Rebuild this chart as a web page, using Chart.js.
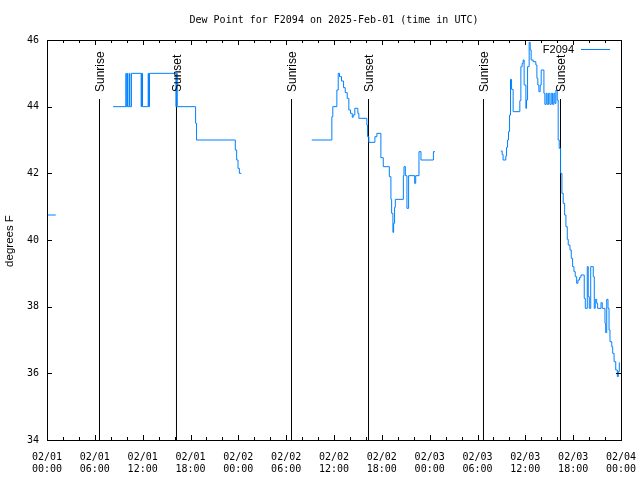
<!DOCTYPE html>
<html>
<head>
<meta charset="utf-8">
<script src="https://cdn.jsdelivr.net/npm/chart.js"></script>
<style>
    body { margin: 0; background: #fff; }
    canvas { display: block; }
</style>
</head>
<body>
<canvas id="grafico" width="640" height="480"></canvas>
<script>
//Datos: [horas desde 02/01 00:00 UTC, punto de rocio °F]
const segA = [[0, 40.75], [1.1, 40.75]]
const segB = [[8.29, 44], [9.89, 45], [9.95, 44], [10.09, 45], [10.15, 44], [10.34, 45], [10.4, 44], [10.59, 45],
    [11.81, 44], [11.87, 45], [11.98, 44], [12.69, 45], [12.75, 44], [12.86, 45], [16.17, 44], [16.25, 45], [16.34, 44],
    [18.64, 43.5], [18.76, 43], [23.62, 42.7], [23.79, 42.4], [23.96, 42.15], [24.13, 42], [24.38, 42]]
const segC = [[33.21, 43.0], [35.73, 43.7], [35.85, 44.0], [36.36, 44.5], [36.53, 45.0], [36.69, 44.9], [36.94, 44.77],
    [37.2, 44.57], [37.41, 44.42], [37.66, 44.25], [37.86, 43.9], [38.07, 43.8], [38.29, 43.68], [38.41, 43.75],
    [38.61, 43.95], [38.99, 43.8], [39.12, 43.65], [40.12, 43.45], [40.21, 43.1], [40.37, 42.93], [41.13, 43.1],
    [41.38, 43.2], [41.88, 42.47], [42.18, 42.2], [42.94, 41.9], [43.14, 41.22], [43.23, 40.8], [43.39, 40.23],
    [43.48, 40.5], [43.6, 40.98], [43.69, 41.22], [44.7, 41.93], [44.78, 42.2], [44.95, 41.93], [45.15, 40.95],
    [45.36, 41.93], [46.12, 41.7], [46.25, 41.93], [46.66, 42.65], [46.91, 42.4], [48.47, 42.65], [48.67, 42.65]]
const segD = [[56.92, 42.67], [57.09, 42.57], [57.21, 42.4], [57.55, 42.52], [57.64, 42.78], [57.77, 43.0], [57.89, 43.25],
    [58.02, 43.75], [58.14, 44.82], [58.27, 44.52], [58.47, 43.85], [59.31, 44.18], [59.44, 45.2], [59.6, 45.3],
    [59.73, 45.4], [59.85, 44.65], [60.07, 43.95], [60.15, 44.2], [60.28, 45.2], [60.48, 45.93], [60.61, 45.7],
    [60.73, 45.4], [60.98, 45.35], [61.32, 45.25], [61.45, 44.85], [61.57, 44.65], [61.7, 44.45], [61.86, 44.65],
    [61.99, 45.1], [62.33, 44.4], [62.45, 44.07], [62.62, 44.4], [62.74, 44.07], [62.92, 44.4], [63.08, 44.07],
    [63.25, 44.4], [63.42, 44.07], [63.58, 44.4], [63.71, 44.1], [63.84, 44.5], [64.0, 44.2], [64.12, 43.0],
    [64.25, 42.75], [64.42, 42.0], [64.59, 41.4], [64.75, 41.1], [64.93, 40.75], [65.09, 40.4], [65.26, 40.02],
    [65.38, 39.85], [65.6, 39.7], [65.76, 39.45], [65.93, 39.2], [66.1, 39.05], [66.26, 38.9], [66.44, 38.7],
    [66.6, 38.8], [66.81, 38.88], [66.98, 38.95], [67.39, 38.25], [67.52, 37.95], [67.77, 39.2], [67.89, 38.3],
    [68.02, 37.95], [68.2, 39.2], [68.52, 38.9], [68.65, 37.95], [68.77, 38.22], [68.95, 38.1], [69.07, 37.95],
    [69.49, 38.12], [69.65, 37.95], [69.99, 37.5], [70.08, 37.22], [70.21, 38.22], [70.37, 37.95], [70.5, 37.3],
    [70.62, 36.95], [70.84, 36.8], [70.96, 36.6], [71.13, 36.35], [71.34, 36.1], [71.54, 35.9], [71.66, 36.05],
    [71.79, 36.33]]

//Salida y puesta de sol (horas)
const sunrise = [6.585, 30.67, 54.75]
const sunset = [16.24, 40.33, 64.41]
const sunLineTop = 44.23
const sunLabelBase = 44.44

//Etiquetas eje x
const tickDates = ['02/01', '02/01', '02/01', '02/01', '02/02', '02/02', '02/02', '02/02', '02/03', '02/03', '02/03', '02/03', '02/04']
const tickTimes = ['00:00', '06:00', '12:00', '18:00', '00:00', '06:00', '12:00', '18:00', '00:00', '06:00', '12:00', '18:00', '00:00']

const mono = 'DejaVu Sans Mono'
const sans = 'Liberation Sans'
const lineColor = 'rgb(0,128,255)'

//Unir los tramos con huecos (null)
const puntos = []
const segmentos = [segA, segB, segC, segD]
segmentos.forEach((seg, i) => {
    if (i > 0) puntos.push({ x: seg[0][0] - 0.01, y: null })
    seg.forEach(([x, y]) => puntos.push({ x, y }))
})

//Lineas verticales de sol
const sunEvents = [
    ...sunrise.map(h => ({ h, label: 'Sunrise' })),
    ...sunset.map(h => ({ h, label: 'Sunset' }))
]
const sunDatasets = sunEvents.map(ev => ({
    label: ev.label,
    data: [{ x: ev.h, y: 34 }, { x: ev.h, y: sunLineTop }],
    borderColor: '#000',
    borderWidth: 1,
    pointRadius: 0,
    showLine: true
}))

//Plugin: marco, ticks hacia adentro, textos
const decoraciones = {
    id: 'decoraciones',
    afterDraw(chart) {
        const { ctx, chartArea: a, scales: { x, y } } = chart
        ctx.save()
        ctx.strokeStyle = '#000'
        ctx.lineWidth = 1
        ctx.beginPath()
        //ticks menores eje x (cada 2 h)
        for (let h = 0; h <= 72; h += 2) {
            const px = Math.round(x.getPixelForValue(h)) + 0.5
            const len = h % 6 === 0 ? 5 : 3
            ctx.moveTo(px, a.bottom); ctx.lineTo(px, a.bottom - len)
            ctx.moveTo(px, a.top); ctx.lineTo(px, a.top + len)
        }
        y.ticks.forEach(t => {
            const py = Math.round(y.getPixelForValue(t.value)) + 0.5
            ctx.moveTo(a.left, py); ctx.lineTo(a.left + 5, py)
            ctx.moveTo(a.right, py); ctx.lineTo(a.right - 5, py)
        })
        ctx.stroke()
        ctx.strokeRect(Math.round(a.left) + 0.5, Math.round(a.top) + 0.5, Math.round(a.right - a.left), Math.round(a.bottom - a.top))

        //etiquetas Sunrise / Sunset
        ctx.fillStyle = '#000'
        ctx.font = `12px "${sans}"`
        ctx.textAlign = 'left'
        ctx.textBaseline = 'middle'
        sunEvents.forEach(ev => {
            ctx.save()
            ctx.translate(x.getPixelForValue(ev.h) + 1, y.getPixelForValue(sunLabelBase))
            ctx.rotate(-Math.PI / 2)
            ctx.fillText(ev.label, 0, 0)
            ctx.restore()
        })

        //titulo
        ctx.font = `10px "${mono}"`
        ctx.textAlign = 'center'
        ctx.fillText('Dew Point for F2094 on 2025-Feb-01 (time in UTC)', (a.left + a.right) / 2, 20)

        //titulo eje y
        ctx.save()
        ctx.font = `11.5px "${sans}"`
        ctx.translate(10, (a.top + a.bottom) / 2 + 1)
        ctx.rotate(-Math.PI / 2)
        ctx.fillText('degrees F', 0, 0)
        ctx.restore()

        //leyenda
        ctx.font = `11px "${sans}"`
        ctx.textAlign = 'right'
        ctx.fillText(chart.data.datasets[0].label, a.right - 47, 50)
        ctx.strokeStyle = lineColor
        ctx.beginPath()
        ctx.moveTo(a.right - 40, 49.5)
        ctx.lineTo(a.right - 11, 49.5)
        ctx.stroke()
        ctx.restore()
    }
}

const ctx = document.getElementById('grafico').getContext('2d')
new Chart(ctx, {
    type: 'scatter',
    data: {
        datasets: [{
            label: 'F2094',
            data: puntos,
            borderColor: lineColor,
            borderWidth: 1,
            pointRadius: 0,
            showLine: true,
            stepped: 'before',
            spanGaps: false
        }, ...sunDatasets]
    },
    options: {
        responsive: false,
        animation: false,
        layout: { padding: { top: 40, right: 19, left: 0, bottom: 0 } },
        plugins: {
            legend: { display: false },
            tooltip: { enabled: false }
        },
        scales: {
            x: {
                type: 'linear',
                min: 0,
                max: 72,
                afterFit: s => { s.height = 40; s.paddingLeft = 0; s.paddingRight = 0 },
                grid: { display: false, drawTicks: false },
                border: { display: false },
                ticks: {
                    stepSize: 6,
                    padding: 11,
                    maxRotation: 0,
                    autoSkip: false,
                    color: '#000',
                    font: { family: mono, size: 10 },
                    callback: (v, i) => [tickDates[i], tickTimes[i]]
                }
            },
            y: {
                min: 34,
                max: 46,
                afterFit: s => { s.width = 47; s.paddingTop = 0; s.paddingBottom = 0 },
                grid: { display: false, drawTicks: false },
                border: { display: false },
                ticks: {
                    stepSize: 2,
                    padding: 8,
                    color: '#000',
                    font: { family: mono, size: 10 }
                }
            }
        }
    },
    plugins: [decoraciones]
})
</script>
</body>
</html>
